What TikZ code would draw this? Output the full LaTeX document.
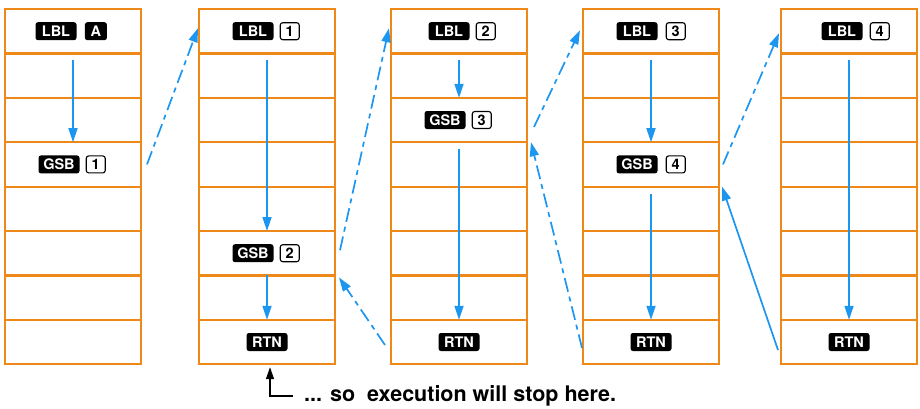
\documentclass[tikz,border=0pt]{standalone}
\usepackage{fontspec}
\setsansfont{TeX Gyre Heros}
\usepackage{tikz}
\usetikzlibrary{positioning, arrows.meta}
\definecolor{gridorange}{RGB}{238, 136, 24}
\definecolor{flowblue}{RGB}{28, 150, 238}

\tikzset{
  cell/.style={minimum width=136pt, minimum height=44.4pt, inner sep=0pt, outer sep=0pt},
  grid/.style={draw=gridorange, line width=2.2pt},
  key/.style={fill=black, text=white, rounded corners=2.5pt, inner sep=0pt,
              minimum width=41pt, minimum height=18pt,
              font=\sffamily\bfseries\fontsize{14.5}{14.5}\selectfont},
  numkey/.style={draw=black, line width=1.1pt, fill=white, rounded corners=2.5pt,
                 inner sep=0pt, minimum width=19pt, minimum height=17pt,
                 font=\sffamily\bfseries\fontsize{14.5}{14.5}\selectfont},
  flow/.style={draw=flowblue, line width=1.7pt, -{Triangle[length=14pt,width=9pt]}},
  jump/.style={flow, dash pattern=on 14pt off 5pt on 5pt off 5pt},
}

\begin{document}
\begin{tikzpicture}[x=1pt, y=-1pt]
      \useasboundingbox (0,0) rectangle (920,408);
      % program memory columns, 8 steps each
      \foreach \x [count=\i] in {5,199,391,583,781} {
        \foreach \r in {1,...,8}
          \node[cell] (c\i-\r) at (\x+68, 9+44.4*\r-22.2) {};
        \draw[grid] (c\i-1.north west) rectangle (c\i-8.south east);
        \foreach \r in {1,...,7}
          \draw[grid] (c\i-\r.south west) -- (c\i-\r.south east);
      }

      % column 1
      \node[key] (lblA) at ([xshift=-17pt]c1-1.center) {LBL};
      \node[key, minimum width=22pt, right=8pt of lblA] (keyA) {A};
      \node[key] (gsb1) at ([xshift=-14pt]c1-4.center) {GSB};
      \node[numkey, right=6pt of gsb1] (n1a) {1};
      \draw[flow] ([yshift=-7pt]c1-2.north) -- (c1-4.north);

      % column 2
      \node[key] (lbl1) at ([xshift=-14pt]c2-1.center) {LBL};
      \node[numkey, right=6pt of lbl1] (n1b) {1};
      \node[key] (gsb2) at ([xshift=-14pt]c2-6.center) {GSB};
      \node[numkey, right=6pt of gsb2] (n2a) {2};
      \node[key] (rtn2) at (c2-8.center) {RTN};
      \draw[flow] ([yshift=-7pt]c2-2.north) -- (c2-6.north);
      \draw[flow] (c2-7.north) -- (c2-8.north);

      % column 3
      \node[key] (lbl2) at ([xshift=-10pt]c3-1.center) {LBL};
      \node[numkey, right=6pt of lbl2] (n2b) {2};
      \node[key] (gsb3) at ([xshift=-14pt]c3-3.center) {GSB};
      \node[numkey, right=6pt of gsb3] (n3a) {3};
      \node[key] (rtn3) at (c3-8.center) {RTN};
      \draw[flow] ([yshift=-7pt]c3-2.north) -- (c3-3.north);
      \draw[flow] ([yshift=-7pt]c3-4.north) -- (c3-8.north);

      % column 4
      \node[key] (lbl3) at ([xshift=-14pt]c4-1.center) {LBL};
      \node[numkey, right=8pt of lbl3] (n3b) {3};
      \node[key] (gsb4) at ([xshift=-14pt]c4-4.center) {GSB};
      \node[numkey, right=8pt of gsb4] (n4a) {4};
      \node[key] (rtn4) at (c4-8.center) {RTN};
      \draw[flow] ([yshift=-7pt]c4-2.north) -- (c4-4.north);
      \draw[flow] ([yshift=-7pt]c4-5.north) -- (c4-8.north);

      % column 5
      \node[key] (lbl4) at ([xshift=-7pt]c5-1.center) {LBL};
      \node[numkey, right=7pt of lbl4] (n4b) {4};
      \node[key] (rtn5) at (c5-8.center) {RTN};
      \draw[flow] ([yshift=-7pt]c5-2.north) -- (c5-8.north);

      % subroutine calls
      \draw[jump] ([xshift=6pt]c1-4.east) -- ([xshift=-1pt,yshift=3pt]c2-1.west);
      \draw[jump] ([xshift=5pt,yshift=3pt]c2-6.east) -- ([xshift=-2pt,yshift=3pt]c3-1.west);
      \draw[jump] ([xshift=7pt,yshift=-7pt]c3-3.east) -- ([xshift=-3pt,yshift=1pt]c4-1.west);
      \draw[jump] ([xshift=4pt]c4-4.east) -- ([xshift=-2pt,yshift=-2pt]c5-1.west);
      % returns
      \draw[flow] ([xshift=-3pt,yshift=-8pt]c5-8.west) -- ([xshift=3pt]c4-4.south east);
      \draw[jump] ([xshift=-1pt,yshift=-6pt]c4-8.west) -- ([xshift=4pt]c3-3.south east);
      \draw[jump] ([xshift=-6pt,yshift=-3pt]c3-8.west) -- ([xshift=4pt,yshift=-2pt]c2-6.south east);

      % note
      \node[anchor=west, inner sep=0pt,
            font=\sffamily\bfseries\fontsize{21.5}{21.5}\selectfont] (note) at (304,396)
            {... so~~execution will stop here.};
      \draw[line width=1.4pt, -{Triangle[length=12pt,width=8pt]}]
            ([xshift=-11pt]note.west) -| ([xshift=3pt,yshift=-3pt]c2-8.south);
\end{tikzpicture}
\end{document}
